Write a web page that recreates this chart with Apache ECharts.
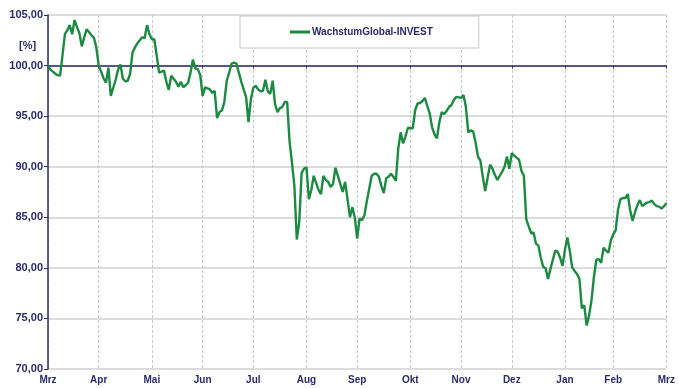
<!DOCTYPE html>
<html>
<head>
<meta charset="utf-8">
<script src="https://cdn.jsdelivr.net/npm/echarts@6/dist/echarts.min.js"></script>
<style>
  html, body { margin: 0; padding: 0; background: #ffffff; }
  #chart { width: 678px; height: 388px; }
</style>
</head>
<body>
<div id="chart"></div>
<script>
// Month labels along the time axis and the number of trading days in each month
const monthNames = ['Mrz', 'Apr', 'Mai', 'Jun', 'Jul', 'Aug', 'Sep', 'Okt', 'Nov', 'Dez', 'Jan', 'Feb', 'Mrz'];
const tradingDays = [21, 22, 21, 21, 22, 21, 22, 21, 21, 22, 20, 22, 1];

// Value axis range and step (indexed performance in %)
const yTicks = [70, 75, 80, 85, 90, 95, 100, 105];
const baseLevel = 100;

const seriesName = 'WachstumGlobal-INVEST';

// Daily indexed values, one row per month
const fundValues = [
  100.0, 99.6, 99.4, 99.2, 99.05, 99.0, 101.0, 103.1, 103.5, 104.0, 103.1, 104.5, 103.8, 103.2, 101.9, 102.8, 103.6, 103.3, 103.0, 102.75, 101.8,
  100.0, 99.4, 98.75, 98.3, 99.8, 97.0, 97.8, 98.6, 99.6, 100.1, 98.7, 98.45, 98.5, 99.2, 101.3, 101.8, 102.2, 102.5, 102.8, 102.7, 104.0, 103.1,
  102.6, 102.6, 101.0, 99.3, 99.4, 99.5, 98.4, 97.6, 99.0, 98.7, 98.4, 97.9, 98.4, 97.85, 98.05, 98.3, 99.3, 100.6, 99.7, 99.65, 99.1,
  97.0, 97.85, 97.75, 97.65, 97.3, 97.5, 94.8, 95.4, 95.55, 96.4, 98.5, 99.3, 100.2, 100.3, 100.2, 99.3, 98.4, 97.65, 96.9, 94.4, 96.7,
  97.8, 98.0, 97.65, 97.45, 97.5, 98.6, 97.45, 97.2, 98.5, 96.2, 95.4, 95.8, 95.9, 96.4, 96.4, 92.5, 90.4, 88.1, 82.8, 84.5, 89.4, 89.8,
  89.95, 86.8, 87.7, 89.1, 88.4, 87.7, 87.3, 89.1, 88.7, 88.5, 88.0, 88.3, 89.9, 89.1, 88.3, 87.5, 88.5, 86.8, 85.0, 86.0, 85.0,
  82.9, 84.9, 84.7, 85.2, 86.6, 87.85, 89.1, 89.3, 89.3, 89.0, 88.1, 87.4, 88.85, 89.0, 89.3, 89.0, 88.6, 91.8, 93.4, 92.3, 93.0, 93.85,
  93.8, 93.8, 95.6, 96.25, 96.3, 96.5, 96.8, 96.0, 95.3, 93.9, 93.2, 92.8, 94.4, 95.4, 95.2, 95.5, 95.9, 96.1, 96.6, 96.9, 96.85,
  96.8, 97.1, 95.9, 93.4, 93.6, 93.5, 92.4, 91.0, 90.6, 89.0, 87.6, 88.9, 90.2, 89.8, 89.2, 88.7, 89.1, 89.5, 90.0, 91.0, 89.8,
  91.35, 91.1, 90.9, 90.7, 89.6, 89.1, 84.8, 84.1, 83.4, 83.5, 82.4, 82.2, 81.0, 80.1, 79.95, 78.9, 79.9, 80.8, 81.7, 81.6, 81.0, 80.2,
  81.8, 83.0, 81.7, 80.05, 79.7, 79.4, 78.9, 76.0, 76.3, 74.3, 75.3, 76.8, 79.1, 80.8, 80.85, 80.5, 82.0, 81.7, 81.5, 82.7,
  83.3, 83.7, 85.8, 86.8, 86.9, 86.9, 87.3, 85.7, 84.65, 85.5, 86.2, 86.7, 86.1, 86.3, 86.45, 86.5, 86.65, 86.3, 86.1, 86.05, 85.85, 86.1,
  86.4
];

// Build the category list (one entry per trading day) and remember where each month begins
const categories = [];
const monthStarts = new Set();
monthNames.forEach(function (name, k) {
  monthStarts.add(categories.length);
  for (let d = 1; d <= tradingDays[k]; d++) categories.push(name + '-' + d);
});
const isMonthStart = function (index) { return monthStarts.has(index); };

const navy = '#2b2a6c';
const green = '#1c8a40';
const fontFamily = '"Liberation Sans", Arial, sans-serif';

const chart = echarts.init(document.getElementById('chart'), null, { renderer: 'canvas' });

const yMin = yTicks[0];
const yMax = yTicks[yTicks.length - 1];
const yStep = yTicks[1] - yTicks[0];
const gridTop = 15, gridBottom = 19;
const plotHeight = 388 - gridTop - gridBottom;
const baseOffset = plotHeight * (yMax - baseLevel) / (yMax - yMin);

chart.setOption({
  animation: false,
  backgroundColor: '#ffffff',
  grid: { left: 48, right: 6, top: gridTop, bottom: gridBottom, containLabel: false },
  legend: {
    data: [{ name: seriesName, icon: 'rect' }],
    left: 240,
    top: 16,
    padding: [9, 46, 9, 50],
    backgroundColor: '#ffffff',
    borderColor: '#c8c8c8',
    borderWidth: 1,
    itemWidth: 20,
    itemHeight: 3,
    itemGap: 0,
    textStyle: { fontSize: 10, lineHeight: 14, color: navy, fontWeight: 'bold', fontFamily: fontFamily, padding: [0, 0, 0, -3] }
  },
  graphic: [{
    type: 'text',
    left: 19,
    top: 40,
    style: { text: '[%]', fill: navy, font: 'bold 11px ' + fontFamily }
  }],
  xAxis: [{
    type: 'category',
    data: categories,
    boundaryGap: false,
    axisLine: { show: false },
    axisTick: { show: false },
    axisLabel: {
      interval: isMonthStart,
      formatter: function (v) { return v.split('-')[0]; },
      margin: 6,
      fontSize: 10,
      color: navy,
      fontWeight: 'bold',
      fontFamily: fontFamily
    },
    splitLine: {
      show: true,
      interval: isMonthStart,
      lineStyle: { color: '#c9c9c9', type: [3, 2], width: 1 }
    }
  }, {
    // reference line at the base level, carrying the month ticks
    type: 'category',
    data: categories,
    boundaryGap: false,
    position: 'top',
    offset: -baseOffset,
    axisLine: { show: true, lineStyle: { color: navy, width: 1.5 } },
    axisTick: { show: true, inside: true, length: 3, interval: isMonthStart, lineStyle: { color: navy } },
    axisLabel: { show: false },
    splitLine: { show: false }
  }],
  yAxis: {
    type: 'value',
    min: yMin,
    max: yMax,
    interval: yStep,
    axisLine: { show: true, lineStyle: { color: navy, width: 1.5 } },
    axisTick: { show: true, length: 4, lineStyle: { color: navy } },
    axisLabel: {
      margin: 5,
      fontSize: 11,
      color: navy,
      fontWeight: 'bold',
      fontFamily: fontFamily,
      formatter: function (v) { return v.toFixed(2).replace('.', ','); }
    },
    splitLine: { show: true, lineStyle: { color: '#d0d0d0', width: 1.5 } }
  },
  series: [{
    name: seriesName,
    type: 'line',
    data: fundValues,
    xAxisIndex: 0,
    symbol: 'none',
    lineStyle: { color: green, width: 2.4 },
    itemStyle: { color: green },
    z: 3
  }]
});
</script>
</body>
</html>
